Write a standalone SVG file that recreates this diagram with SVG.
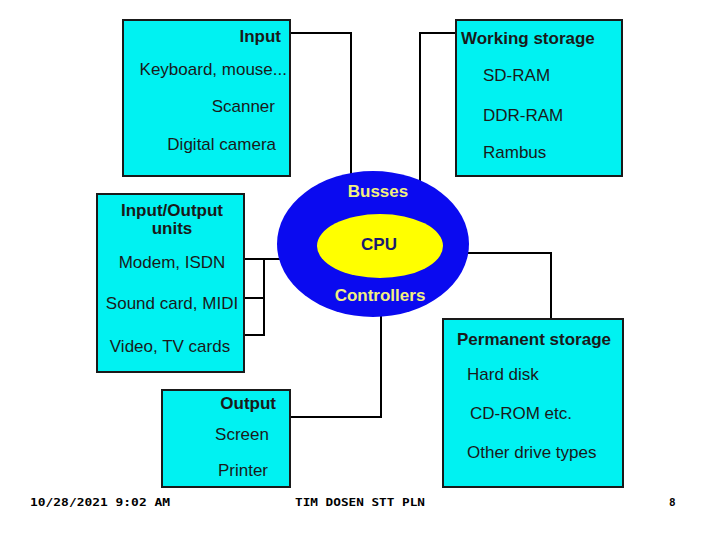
<svg xmlns="http://www.w3.org/2000/svg" width="720" height="540" viewBox="0 0 720 540">
<style>
.box{fill:#00F2F2;stroke:#1a1a1a;stroke-width:2}
.t{font-family:"Liberation Sans",Arial,sans-serif;font-size:17px;fill:#1a1a1a}
.b{font-weight:bold}
.c{fill:none;stroke:#000;stroke-width:2}
.f{font-family:"DejaVu Sans Mono",monospace;font-size:11px;font-weight:bold;fill:#000}
</style>
<rect width="720" height="540" fill="#fff"/>
<g id="connectors">
<polyline class="c" points="290,33 351,33 351,190"/>
<polyline class="c" points="456,33 420,33 420,190"/>
<polyline class="c" points="244,259 290,259"/>
<polyline class="c" points="264,259 264,335 244,335"/>
<polyline class="c" points="244,298 264,298"/>
<polyline class="c" points="290,417 381,417 381,310"/>
<polyline class="c" points="465,253 551,253 551,319"/>
</g>
<g id="input">
<rect class="box" x="123" y="20" width="167" height="156"/>
<text class="t b" x="281" y="42" text-anchor="end">Input</text>
<text class="t" x="287" y="75" text-anchor="end">Keyboard, mouse...</text>
<text class="t" x="275" y="112" text-anchor="end">Scanner</text>
<text class="t" x="276" y="150" text-anchor="end">Digital camera</text>
</g>
<g id="working-storage">
<rect class="box" x="456" y="20" width="166" height="156"/>
<text class="t b" x="461" y="44">Working storage</text>
<text class="t" x="483" y="81">SD-RAM</text>
<text class="t" x="483" y="121">DDR-RAM</text>
<text class="t" x="483" y="158">Rambus</text>
</g>
<g id="cpu">
<ellipse cx="373" cy="244" rx="96" ry="73" fill="#0A0AF0"/>
<ellipse cx="380" cy="246" rx="63" ry="32" fill="#FFFF00"/>
<text class="t b" x="378" y="197" text-anchor="middle" fill="#F2F080" style="fill:#F2F080">Busses</text>
<text class="t b" x="379" y="250" text-anchor="middle" style="fill:#1a1a70">CPU</text>
<text class="t b" x="380" y="301" text-anchor="middle" style="fill:#F2F080">Controllers</text>
</g>
<g id="io-units">
<rect class="box" x="97" y="194" width="147" height="178"/>
<text class="t b" x="172" y="216" text-anchor="middle">Input/Output</text>
<text class="t b" x="172" y="234" text-anchor="middle">units</text>
<text class="t" x="172" y="268" text-anchor="middle">Modem, ISDN</text>
<text class="t" x="172" y="309" text-anchor="middle">Sound card, MIDI</text>
<text class="t" x="170" y="352" text-anchor="middle">Video, TV cards</text>
</g>
<g id="output">
<rect class="box" x="162" y="390" width="128" height="97"/>
<text class="t b" x="276" y="409" text-anchor="end">Output</text>
<text class="t" x="242" y="440" text-anchor="middle">Screen</text>
<text class="t" x="243" y="476" text-anchor="middle">Printer</text>
</g>
<g id="permanent-storage">
<rect class="box" x="443" y="319" width="180" height="168"/>
<text class="t b" x="457" y="345">Permanent storage</text>
<text class="t" x="467" y="380">Hard disk</text>
<text class="t" x="470" y="419">CD-ROM etc.</text>
<text class="t" x="467" y="458">Other drive types</text>
</g>
<g id="footer">
<text class="f" x="30" y="506" textLength="140" lengthAdjust="spacingAndGlyphs">10/28/2021 9:02 AM</text>
<text class="f" x="295" y="506" textLength="130" lengthAdjust="spacingAndGlyphs">TIM DOSEN STT PLN</text>
<text class="f" x="669" y="506">8</text>
</g>
</svg>
